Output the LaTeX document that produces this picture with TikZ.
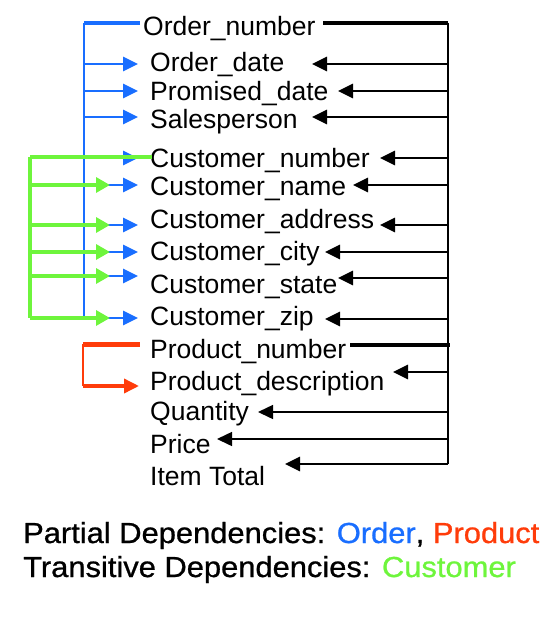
\documentclass[tikz,border=0pt]{standalone}
\usepackage{fontspec}
\setmainfont{Liberation Sans}
\newfontfamily\legfont[FakeBold=0.8]{Liberation Sans}
\usetikzlibrary{arrows.meta}
\definecolor{ublue}{RGB}{25,110,255}
\definecolor{ured}{RGB}{255,60,10}
\definecolor{ugreen}{RGB}{110,245,60}
\begin{document}
\begin{tikzpicture}[x=1pt,y=-1pt,
  lbl/.style={anchor=base west, inner sep=0pt, font=\fontsize{26.5}{30}\selectfont},
  leg/.style={anchor=base west, inner sep=0pt, font=\legfont\fontsize{29}{32}\selectfont},
  tip/.style={-{Triangle[length=15pt,width=14pt]}},
  blk/.style={tip, line width=2.8pt, black},
  thin/.style={tip, line width=1.5pt, black},
  bl/.style={tip, line width=2.8pt, ublue},
  gr/.style={-{Triangle[length=14pt,width=15pt]}, line width=3.3pt, ugreen},
]
\useasboundingbox (0,0) rectangle (556,618);
% texts
\node[lbl] (on)  at (143,36)  {Order\_number};
\node[lbl] (od)  at (150,71)  {Order\_date};
\node[lbl] (pd)  at (150,100) {Promised\_date};
\node[lbl] (sp)  at (150,128) {Salesperson};
\node[lbl] (cn)  at (150,167) {Customer\_number};
\node[lbl] (cnm) at (150,195) {Customer\_name};
\node[lbl] (ca)  at (150,228) {Customer\_address};
\node[lbl] (cc)  at (150,260) {Customer\_city};
\node[lbl] (cs)  at (150,293) {Customer\_state};
\node[lbl] (cz)  at (150,325) {Customer\_zip};
\node[lbl] (pn)  at (150,358) {Product\_number};
\node[lbl] (pds) at (150,390) {Product\_description};
\node[lbl] (qt)  at (150,420) {Quantity};
\node[lbl] (pr)  at (150,453) {Price};
\node[lbl] (it)  at (150,485) {Item Total};
% blue (Order) dependencies
\coordinate (bT) at (84,23);
\coordinate (bB) at (84,318);
\draw[ublue, line width=1.8pt] (bT) -- (bB);
\draw[ublue, line width=4pt] (bT) -- (140,23);
\foreach \y in {64,91,117,158,185,225,252,276,318}
  \draw[bl] (84,\y) -- (138,\y);
% green (Customer) transitive dependencies
\coordinate (gT) at (30,157);
\coordinate (gB) at (30,318);
\draw[ugreen, line width=3.3pt] (gT) -- (gB);
\draw[ugreen, line width=3.3pt] (gT) -- (152,157);
\foreach \y in {185,225,252,276,318}
  \draw[gr] (30,\y) -- (110,\y);
% red (Product) dependencies
\coordinate (rT) at (83,344);
\coordinate (rB) at (83,386);
\draw[ured, line width=2.6pt] (rT) -- (rB);
\draw[ured, line width=5pt] (rT) -- (140,344);
\draw[ured, line width=3.5pt, -{Triangle[length=15pt,width=14pt]}] (rB) -- (139,386);
% black (full key) dependencies
\coordinate (kT) at (448,23);
\coordinate (kB) at (448,464);
\draw[black, line width=2.2pt] (kT) -- (kB);
\draw[black, line width=4.5pt] (323,23) -- (kT);
\draw[blk] (448,64)  -- (312,64);
\draw[blk] (448,91)  -- (338,91);
\draw[blk] (448,117) -- (312,117);
\draw[blk] (448,158) -- (380,158);
\draw[blk] (448,185) -- (353,185);
\draw[blk] (448,225) -- (380,225);
\draw[blk] (448,252) -- (325,252);
\draw[blk] (448,278) -- (338,278);
\draw[blk] (448,319) -- (325,319);
\draw[black, line width=4.5pt] (350,345) -- (450,345);
\draw[blk] (448,372) -- (393,372);
\draw[thin] (448,412) -- (258,412);
\draw[thin] (448,439) -- (217,439);
\draw[blk] (448,464) -- (285,464);
% legend
\node[leg] (l1) at (23,543) {\scalebox{1.065}[1]{Partial Dependencies: \textcolor{ublue}{Order}, \textcolor{ured}{Product}}};
\node[leg] (l2) at (23,577) {\scalebox{1.065}[1]{Transitive Dependencies: \textcolor{ugreen}{Customer}}};
\end{tikzpicture}
\end{document}
